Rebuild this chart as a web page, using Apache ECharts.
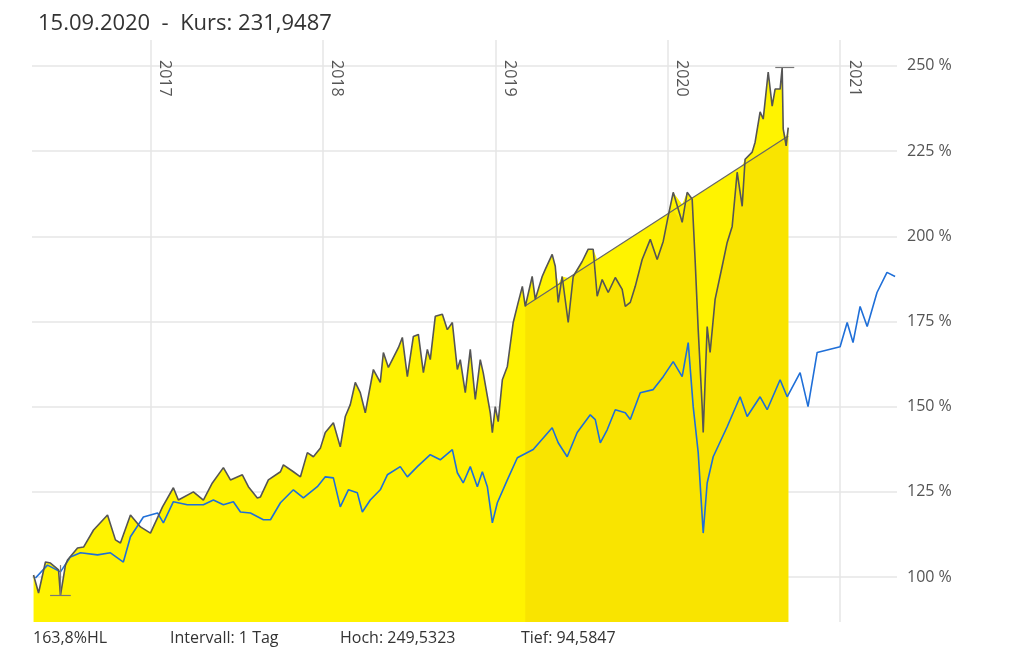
<!DOCTYPE html>
<html>
<head>
<meta charset="utf-8">
<script src="https://cdn.jsdelivr.net/npm/echarts@6/dist/echarts.min.js"></script>
<style>
  html, body { margin: 0; padding: 0; background: #fff; }
  #chart { width: 1024px; height: 664px; }
</style>
</head>
<body>
<div id="chart"></div>
<script>
// Kursverlauf (Jahr als Dezimalzahl, Wert in %)
var kursDates = [2016.322,2016.351,2016.391,2016.420,2016.467,2016.478,2016.507,2016.519,2016.577,2016.612,2016.670,2016.751,2016.797,2016.826,2016.884,2016.942,2017.000,2017.070,2017.133,2017.162,2017.249,2017.307,2017.359,2017.423,2017.464,2017.533,2017.568,2017.620,2017.638,2017.684,2017.754,2017.771,2017.829,2017.870,2017.910,2017.945,2017.986,2018.014,2018.061,2018.101,2018.130,2018.159,2018.188,2018.217,2018.246,2018.293,2018.333,2018.351,2018.380,2018.438,2018.461,2018.490,2018.525,2018.554,2018.583,2018.606,2018.623,2018.652,2018.693,2018.722,2018.751,2018.780,2018.797,2018.826,2018.855,2018.884,2018.913,2018.930,2018.971,2018.983,2019.000,2019.017,2019.041,2019.070,2019.104,2019.133,2019.157,2019.174,2019.214,2019.232,2019.272,2019.290,2019.330,2019.348,2019.365,2019.388,2019.423,2019.452,2019.504,2019.539,2019.568,2019.591,2019.620,2019.655,2019.696,2019.736,2019.754,2019.783,2019.812,2019.852,2019.899,2019.939,2019.974,2020.003,2020.032,2020.084,2020.113,2020.142,2020.159,2020.177,2020.200,2020.206,2020.229,2020.246,2020.275,2020.316,2020.345,2020.374,2020.403,2020.432,2020.449,2020.490,2020.507,2020.536,2020.554,2020.583,2020.606,2020.623,2020.652,2020.664,2020.670,2020.687,2020.699];
var kursValues = [100.6,95.3,104.4,104.1,102.1,94.6,103.5,105.0,108.5,108.8,113.8,118.2,110.9,110.0,118.2,114.7,112.9,120.6,126.2,122.6,125.0,122.6,127.6,132.1,128.5,130.0,126.5,123.2,123.5,128.5,130.9,132.9,130.9,129.4,136.5,135.3,137.9,142.4,145.3,138.2,147.1,150.6,157.1,154.1,148.2,160.9,157.1,165.9,161.5,167.3,170.3,158.8,170.6,171.2,160.0,166.8,163.8,176.5,177.1,172.6,174.7,160.9,163.8,154.1,166.8,152.1,163.8,160.0,148.2,142.4,150.0,145.6,157.9,161.8,174.7,180.6,185.3,179.4,188.2,181.5,188.2,190.3,194.7,191.2,180.6,188.2,174.7,188.2,192.6,196.2,196.2,182.4,187.3,183.5,187.9,184.4,179.4,180.6,185.3,193.2,199.1,193.2,198.5,205.9,212.9,204.1,212.9,210.9,193.2,172.6,150.0,142.4,173.5,165.9,181.5,191.2,198.2,202.9,218.8,208.8,222.6,224.7,227.6,236.5,234.4,248.2,238.2,243.2,243.2,249.5,231.5,226.5,231.9];

// Vergleichsindex
var indexDates = [2016.333,2016.403,2016.478,2016.536,2016.594,2016.693,2016.768,2016.843,2016.884,2016.959,2017.041,2017.075,2017.133,2017.214,2017.307,2017.365,2017.423,2017.481,2017.522,2017.580,2017.655,2017.696,2017.754,2017.829,2017.887,2017.968,2018.014,2018.061,2018.101,2018.148,2018.200,2018.229,2018.275,2018.333,2018.374,2018.449,2018.490,2018.548,2018.623,2018.681,2018.751,2018.780,2018.814,2018.855,2018.896,2018.925,2018.954,2018.983,2019.012,2019.070,2019.128,2019.220,2019.330,2019.365,2019.417,2019.475,2019.551,2019.580,2019.609,2019.649,2019.696,2019.754,2019.783,2019.841,2019.916,2019.974,2020.032,2020.084,2020.119,2020.148,2020.177,2020.206,2020.229,2020.264,2020.345,2020.420,2020.461,2020.536,2020.577,2020.652,2020.693,2020.768,2020.814,2020.867,2021.000,2021.041,2021.075,2021.116,2021.157,2021.214,2021.272,2021.319];
var indexValues = [99.7,103.5,101.5,105.9,107.1,106.5,107.1,104.4,111.8,117.6,118.8,115.9,122.1,121.2,121.2,122.6,121.2,122.1,119.1,118.8,116.8,116.8,121.8,125.6,123.2,126.5,129.4,129.1,120.6,125.6,124.7,119.1,122.6,125.6,130.0,132.4,129.4,132.4,135.9,134.4,137.4,130.6,127.6,132.4,126.5,130.9,126.5,115.9,121.8,128.5,135.0,137.4,143.8,139.4,135.3,142.4,147.6,146.2,139.4,143.2,149.1,148.2,146.2,154.1,155.0,158.8,163.2,158.8,168.8,150.0,136.5,112.9,127.6,135.3,144.1,152.9,147.1,152.9,149.1,157.9,152.9,160.0,150.0,165.9,167.6,174.7,168.8,179.4,173.5,183.5,189.4,188.2];

// Trendlinie
var trendDates = [2019.177, 2020.699];
var trendValues = [179.7, 229.4];

var yearTicks = [2017, 2018, 2019, 2020, 2021];
var pctTicks = [100, 125, 150, 175, 200, 225, 250];
var hoch = 249.5323, tief = 94.5847;
var hochDate = 2020.664, tiefDate = 2016.478;

var kursData = kursDates.map(function(d, i) { return [d, kursValues[i]]; });
var indexData = indexDates.map(function(d, i) { return [d, indexValues[i]]; });
var trendData = trendDates.map(function(d, i) { return [d, trendValues[i]]; });

// Bereich unter / über der Trendlinie
function trendAt(d) {
	var t = (d - trendDates[0]) / (trendDates[1] - trendDates[0]);
	return trendValues[0] + t * (trendValues[1] - trendValues[0]);
}
var lowerData = [], upperData = [];
kursDates.forEach(function(d, i) {
	if (d >= trendDates[0] - 0.004) {
		var tv = trendAt(Math.max(d, trendDates[0]));
		lowerData.push([d, Math.min(tv, kursValues[i])]);
		upperData.push([d, Math.max(tv, kursValues[i])]);
	}
});

var font = '"Open Sans", "Noto Sans", sans-serif';
var myChart = echarts.init(document.getElementById('chart'));
var option = {
	animation : false,
	textStyle : { fontFamily : font },
	title : {
		text : '15.09.2020  -  Kurs: 231,9487',
		left : 33,
		top : 8,
		textStyle : { fontFamily : font, fontSize : 22, fontWeight : 'normal', color : '#333' }
	},
	graphic : [
		{ type : 'text', left : 33, top : 630, style : { text : '163,8%HL', font : '16px ' + font, fill : '#333' } },
		{ type : 'text', left : 170, top : 630, style : { text : 'Intervall: 1 Tag', font : '16px ' + font, fill : '#333' } },
		{ type : 'text', left : 340, top : 630, style : { text : 'Hoch: 249,5323', font : '16px ' + font, fill : '#333' } },
		{ type : 'text', left : 521, top : 630, style : { text : 'Tief: 94,5847', font : '16px ' + font, fill : '#333' } }
	],
	grid : { left : 32, right : 127, top : 40, bottom : 42 },
	xAxis : {
		type : 'value',
		position : 'top',
		min : 2016.313,
		max : 2021.33,
		axisLine : { show : false },
		axisTick : { show : false, customValues : yearTicks },
		splitLine : { show : true, lineStyle : { color : '#e6e6e6', width : 1.5 } },
		axisLabel : {
			inside : true,
			rotate : 90,
			margin : 20,
			align : 'left',
			verticalAlign : 'bottom',
			padding : [0, 0, 6, 0],
			customValues : yearTicks,
			fontSize : 16,
			color : '#555',
			fontFamily : font,
			formatter : function(v) { return String(v); }
		}
	},
	yAxis : {
		type : 'value',
		position : 'right',
		min : 86.8,
		max : 257.6,
		axisLine : { show : false },
		axisTick : { show : false, customValues : pctTicks },
		splitLine : { show : true, lineStyle : { color : '#e6e6e6', width : 1.5 } },
		axisLabel : {
			customValues : pctTicks,
			margin : 10,
			fontSize : 16,
			color : '#555',
			fontFamily : font,
			formatter : function(v) { return v + ' %'; }
		}
	},
	series : [ {
		name : 'Kurs Fläche',
		type : 'line',
		data : kursData,
		symbol : 'none',
		lineStyle : { width : 0 },
		areaStyle : { color : '#fff300', opacity : 1 },
		z : 1
	}, {
		name : 'Trend oben',
		type : 'line',
		data : upperData,
		symbol : 'none',
		lineStyle : { width : 0 },
		areaStyle : { color : '#fff300', opacity : 1 },
		z : 1
	}, {
		name : 'Trend unten',
		type : 'line',
		data : lowerData,
		symbol : 'none',
		lineStyle : { width : 0 },
		areaStyle : { color : '#f9e400', opacity : 1 },
		z : 1
	}, {
		name : 'Index',
		type : 'line',
		data : indexData,
		symbol : 'none',
		lineStyle : { color : '#1f6fd8', width : 1.6 },
		z : 3
	}, {
		name : 'Trendlinie',
		type : 'line',
		data : trendData,
		symbol : 'none',
		lineStyle : { color : '#666', width : 1.2 },
		z : 3
	}, {
		name : 'Kurs',
		type : 'line',
		data : kursData,
		symbol : 'none',
		lineStyle : { color : '#555', width : 1.6 },
		z : 4,
		markLine : {
			symbol : 'none',
			silent : true,
			label : { show : false },
			lineStyle : { color : '#777', type : 'solid', width : 1.2 },
			data : [
				[ { coord : [tiefDate - 0.06, tief] }, { coord : [tiefDate + 0.06, tief] } ],
				[ { coord : [tiefDate, tief] }, { coord : [tiefDate, 103.5] } ],
				[ { coord : [hochDate - 0.04, hoch] }, { coord : [hochDate + 0.07, hoch] } ]
			]
		}
	} ]
};
myChart.setOption(option);
</script>
</body>
</html>
